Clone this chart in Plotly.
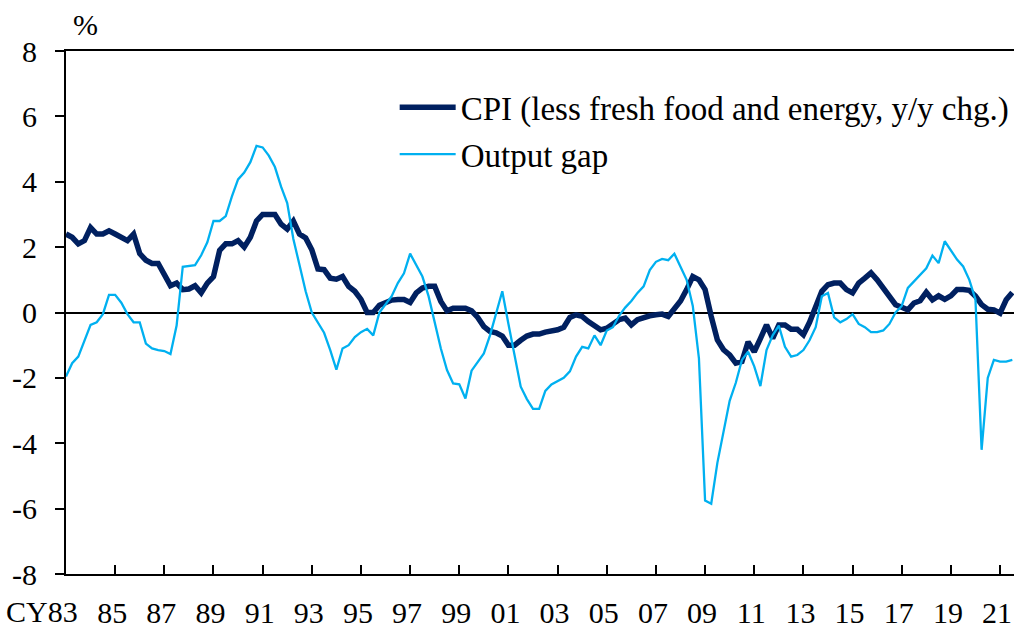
import plotly.graph_objects as go

# Quarterly data, 1983Q1 .. 2021Q3
start_year = 1983
cpi = [
    2.4, 2.3, 2.1, 2.2,      # 1983
    2.6, 2.4, 2.4, 2.5,      # 1984
    2.4, 2.3, 2.2, 2.4,      # 1985
    1.8, 1.6, 1.5, 1.5,      # 1986
    1.15, 0.82, 0.9, 0.7,    # 1987
    0.72, 0.82, 0.6, 0.9,    # 1988
    1.1, 1.9, 2.1, 2.1,      # 1989
    2.2, 2.0, 2.3, 2.8,      # 1990
    3.0, 3.0, 3.0, 2.7,      # 1991
    2.55, 2.8, 2.4, 2.28,    # 1992
    1.92, 1.33, 1.31, 1.05,  # 1993
    1.02, 1.1, 0.8, 0.65,    # 1994
    0.4, 0.0, 0.0, 0.22,     # 1995
    0.3, 0.38, 0.4, 0.4,     # 1996
    0.31, 0.6, 0.75, 0.8,    # 1997
    0.8, 0.34, 0.05, 0.13,   # 1998
    0.13, 0.13, 0.05, -0.15, # 1999
    -0.43, -0.58, -0.62, -0.72,  # 2000
    -1.0, -1.0, -0.85, -0.72,    # 2001
    -0.66, -0.66, -0.6, -0.58,   # 2002
    -0.53, -0.45, -0.15, -0.07,  # 2003
    -0.12, -0.28, -0.4, -0.53,   # 2004
    -0.48, -0.35, -0.22, -0.17,  # 2005
    -0.38, -0.22, -0.15, -0.1,   # 2006
    -0.07, -0.05, -0.12, 0.12,   # 2007
    0.35, 0.7, 1.1, 1.0,         # 2008
    0.7, -0.12, -0.84, -1.14,    # 2009
    -1.3, -1.55, -1.5, -0.9,     # 2010
    -1.2, -0.8, -0.38, -0.79,    # 2011
    -0.38, -0.38, -0.51, -0.51,  # 2012
    -0.68, -0.3, 0.2, 0.65,      # 2013
    0.85, 0.9, 0.9, 0.7,         # 2014
    0.6, 0.9, 1.05, 1.21,        # 2015
    1.0, 0.75, 0.5, 0.24,        # 2016
    0.16, 0.08, 0.29, 0.36,      # 2017
    0.62, 0.39, 0.51, 0.4,       # 2018
    0.51, 0.7, 0.7, 0.68,        # 2019
    0.5, 0.24, 0.1, 0.08,        # 2020
    -0.02, 0.39, 0.61,           # 2021
]
output_gap = [
    -1.96, -1.55, -1.35, -0.85,  # 1983
    -0.38, -0.3, -0.05, 0.54,    # 1984
    0.54, 0.3, -0.05, -0.3,      # 1985
    -0.3, -0.95, -1.1, -1.15,    # 1986
    -1.18, -1.27, -0.4, 1.4,     # 1987
    1.43, 1.45, 1.75, 2.15,      # 1988
    2.8, 2.8, 2.95, 3.55,        # 1989
    4.07, 4.28, 4.6, 5.1,        # 1990
    5.05, 4.8, 4.45, 3.85,       # 1991
    3.35, 2.25, 1.45, 0.65,      # 1992
    0.0, -0.3, -0.62, -1.15,     # 1993
    -1.75, -1.1, -1.0, -0.75,    # 1994
    -0.6, -0.5, -0.7, 0.0,       # 1995
    0.25, 0.5, 0.9, 1.2,         # 1996
    1.8, 1.45, 1.1, 0.5,         # 1997
    -0.35, -1.1, -1.76, -2.17,   # 1998
    -2.2, -2.63, -1.78, -1.5,    # 1999
    -1.25, -0.7, 0.0, 0.65,      # 2000
    -0.35, -1.35, -2.27, -2.65,  # 2001
    -2.95, -2.95, -2.4, -2.2,    # 2002
    -2.1, -2.0, -1.8, -1.35,     # 2003
    -1.05, -1.1, -0.7, -1.0,     # 2004
    -0.55, -0.45, -0.1, 0.15,    # 2005
    0.35, 0.6, 0.8, 1.3,         # 2006
    1.55, 1.64, 1.6, 1.8,        # 2007
    1.4, 1.0, 0.2, -1.4,         # 2008
    -5.75, -5.85, -4.6, -3.6,    # 2009
    -2.7, -2.15, -1.45, -1.2,    # 2010
    -1.65, -2.25, -1.15, -0.7,   # 2011
    -0.4, -1.05, -1.35, -1.3,    # 2012
    -1.15, -0.85, -0.45, 0.5,    # 2013
    0.6, -0.15, -0.3, -0.2,      # 2014
    -0.05, -0.35, -0.45, -0.6,   # 2015
    -0.6, -0.55, -0.35, 0.0,     # 2016
    0.2, 0.75, 0.95, 1.15,       # 2017
    1.35, 1.74, 1.51, 2.18,      # 2018
    1.9, 1.62, 1.41, 1.0,        # 2019
    0.4, -4.2, -2.0, -1.45,      # 2020
    -1.5, -1.5, -1.45,           # 2021
]
tick_years = list(range(1983, 2022, 2))
tick_labels = [f"{y % 100:02d}" for y in tick_years]
y_ticks = [-8, -6, -4, -2, 0, 2, 4, 6, 8]
y_tick_labels = [str(v) for v in y_ticks]

x = [start_year + i / 4 for i in range(len(cpi))]

FONT = "Liberation Serif"
TICK_SIZE = 30
LEGEND_SIZE = 33

fig = go.Figure()
fig.add_trace(go.Scatter(
    x=x, y=cpi, mode="lines", name="CPI (less fresh food and energy, y/y chg.)",
    line=dict(color="#002060", width=5.5), legendgroup="a",
))
fig.add_trace(go.Scatter(
    x=x, y=output_gap, mode="lines", name="Output gap",
    line=dict(color="#00B0F0", width=2.3), legendgroup="b",
))

fig.update_layout(
    width=1014, height=624,
    margin=dict(l=66, r=0, t=51, b=50, autoexpand=False),
    paper_bgcolor="white", plot_bgcolor="white",
    font=dict(family=FONT, size=TICK_SIZE, color="black"),
    showlegend=True,
    legend=dict(
        x=0.3467, y=0.946, xanchor="left", yanchor="top",
        bgcolor="rgba(0,0,0,0)", font=dict(family=FONT, size=LEGEND_SIZE, color="black"),
        traceorder="grouped", tracegroupgap=1, itemwidth=56,
    ),
    xaxis=dict(
        range=[1983, 1983 + 948 / 24.58], automargin=False,
        tickmode="array", tickvals=tick_years,
        ticktext=[""] + tick_labels[1:],
        ticks="inside", ticklen=9, tickwidth=1.5, tickcolor="black",
        showline=True, linecolor="black", linewidth=2, mirror=True,
        showgrid=False, zeroline=False,
        ticklabelstandoff=11, ticklabelshift=-3,
        tickfont=dict(family=FONT, size=TICK_SIZE, color="black"),
    ),
    yaxis=dict(
        range=[-8, 8], automargin=False,
        tickmode="array", tickvals=y_ticks, ticktext=y_tick_labels,
        ticks="outside", ticklen=9, tickwidth=1.5, tickcolor="black",
        showline=True, linecolor="black", linewidth=2,
        showgrid=False, zeroline=True, zerolinecolor="black", zerolinewidth=1.5,
        ticklabelstandoff=12,
        tickfont=dict(family=FONT, size=TICK_SIZE, color="black"),
    ),
    annotations=[
        dict(text="%", xref="paper", yref="paper", x=19 / 948, y=1 + 27 / 523,
             xanchor="center", yanchor="middle", showarrow=False,
             font=dict(family=FONT, size=TICK_SIZE, color="black")),
        dict(text="CY83", xref="x", yref="paper", x=1983, y=-37 / 523,
             xanchor="right", yanchor="middle", xshift=14, showarrow=False,
             font=dict(family=FONT, size=TICK_SIZE, color="black")),
    ],
)

fig.write_html("out.html", config={"displayModeBar": False},
               post_script="document.body.style.margin='0px';")
